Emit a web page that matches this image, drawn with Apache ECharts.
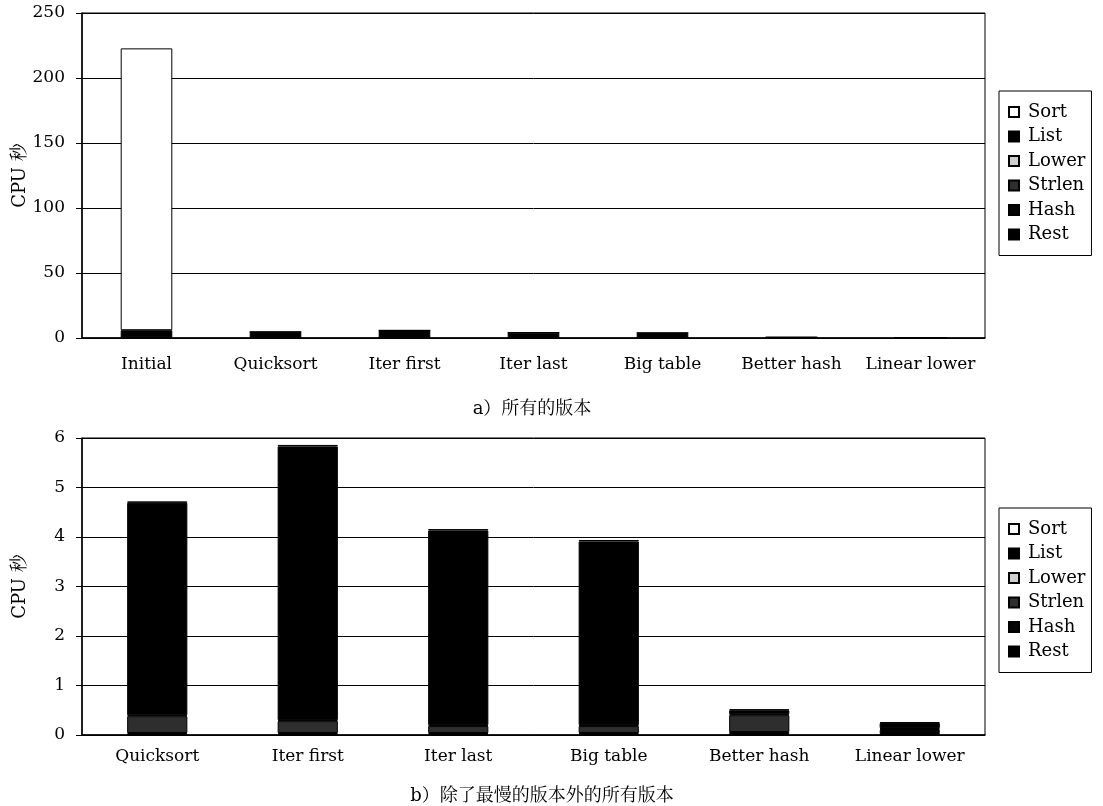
<!DOCTYPE html>
<html><head><meta charset="utf-8">
<script src="https://cdn.jsdelivr.net/npm/echarts@6/dist/echarts.min.js"></script>
<style>html,body{margin:0;padding:0;background:#fff}#c{width:1103px;height:806px}</style>
</head><body><div id="c"></div>
<script>
const categoriesAll = ['Initial','Quicksort','Iter first','Iter last','Big table','Better hash','Linear lower'];
const categoriesFast = ['Quicksort','Iter first','Iter last','Big table','Better hash','Linear lower'];
const seriesNames = ['Sort','List','Lower','Strlen','Hash','Rest'];
// values for all versions (Initial first)
const sortVals   = [216.8, 0.03, 0.03, 0.03, 0.03, 0.02, 0.02];
const listVals   = [5.4,   4.29, 5.53, 3.93, 3.71, 0.08, 0.10];
const lowerVals  = [0.1,   0.02, 0.02, 0.02, 0.02, 0.02, 0.02];
const strlenVals = [0.3,   0.34, 0.24, 0.14, 0.14, 0.34, 0.02];
const hashVals   = [0.1,   0.02, 0.02, 0.02, 0.02, 0.04, 0.06];
const restVals   = [0.1,   0.02, 0.02, 0.02, 0.02, 0.02, 0.04];
const yTicksTop = [0, 250, 50];
const yTicksBottom = [0, 6, 1];
const subtitleA = 'a）所有的版本';
const subtitleB = 'b）除了最慢的版本外的所有版本';
const yName = 'CPU 秒';

const colors = {Sort:'#ffffff', List:'#000000', Lower:'#cfcfcf', Strlen:'#2e2e2e', Hash:'#050505', Rest:'#000000'};
const valsByName = {Sort:sortVals, List:listVals, Lower:lowerVals, Strlen:strlenVals, Hash:hashVals, Rest:restVals};
const stackOrder = ['Rest','Hash','Strlen','Lower','List','Sort'];
const serif = '"DejaVu Serif","Liberation Serif",serif';
const cjk = '"DejaVu Serif","Noto Serif CJK SC","Noto Sans CJK SC",serif';

function makeSeries(gi, skipFirst) {
  return stackOrder.map(n => ({
    name: n, type: 'bar', stack: 'g' + gi, xAxisIndex: gi, yAxisIndex: gi,
    barWidth: '40%',
    data: skipFirst ? valsByName[n].slice(1) : valsByName[n].slice(),
    itemStyle: {color: colors[n], borderColor: '#000', borderWidth: 1},
    emphasis: {disabled: true}
  }));
}
function yAxis(gi, t) {
  return {
    type: 'value', gridIndex: gi, min: t[0], max: t[1], interval: t[2],
    name: yName, nameLocation: 'middle', nameRotate: 90, nameGap: 53, nameMoveOverlap: false,
    nameTextStyle: {fontFamily: cjk, fontSize: 18, color: '#000'},
    axisLine: {show: true, lineStyle: {color: '#000', width: 1.5}},
    axisTick: {show: true, length: 6, lineStyle: {color: '#000'}},
    axisLabel: {fontFamily: serif, fontSize: 17, color: '#000', margin: 17},
    splitLine: {lineStyle: {color: '#000', width: 1}}
  };
}
function xAxis(gi, cats, margin) {
  return {
    type: 'category', gridIndex: gi, data: cats,
    axisLine: {lineStyle: {color: '#000', width: 1.5}},
    axisTick: {show: false},
    axisLabel: {fontFamily: serif, fontSize: 17, color: '#000', margin: margin, interval: 0}
  };
}
function legend(top) {
  return {
    data: seriesNames, orient: 'vertical', left: 999, top: top,
    itemWidth: 10, itemHeight: 10, itemGap: 6.5, icon: 'rect',
    borderColor: '#000', borderWidth: 1, padding: [12, 6, 12, 9],
    textStyle: {fontFamily: serif, fontSize: 18, color: '#000', lineHeight: 18, padding: [0, 0, 0, 4]},
    selectedMode: false
  };
}
const chart = echarts.init(document.getElementById('c'));
chart.setOption({
  animation: false,
  backgroundColor: '#fff',
  title: [
    {text: subtitleA, left: 527, top: 395, textAlign: 'center', textStyle: {fontFamily: cjk, fontSize: 18, fontWeight: 'normal', color: '#000'}},
    {text: subtitleB, left: 537, top: 782, textAlign: 'center', textStyle: {fontFamily: cjk, fontSize: 18, fontWeight: 'normal', color: '#000'}}
  ],
  grid: [
    {left: 82, right: 118, top: 13, height: 325, show: true, borderColor: '#000', borderWidth: 1, containLabel: false, outerBoundsMode: 'none'},
    {left: 82, right: 118, top: 438, height: 297, show: true, borderColor: '#000', borderWidth: 1, containLabel: false, outerBoundsMode: 'none'}
  ],
  legend: [legend(91), legend(508)],
  xAxis: [xAxis(0, categoriesAll, 18), xAxis(1, categoriesFast, 13)],
  yAxis: [yAxis(0, yTicksTop), yAxis(1, yTicksBottom)],
  series: makeSeries(0, false).concat(makeSeries(1, true))
});
</script></body></html>
